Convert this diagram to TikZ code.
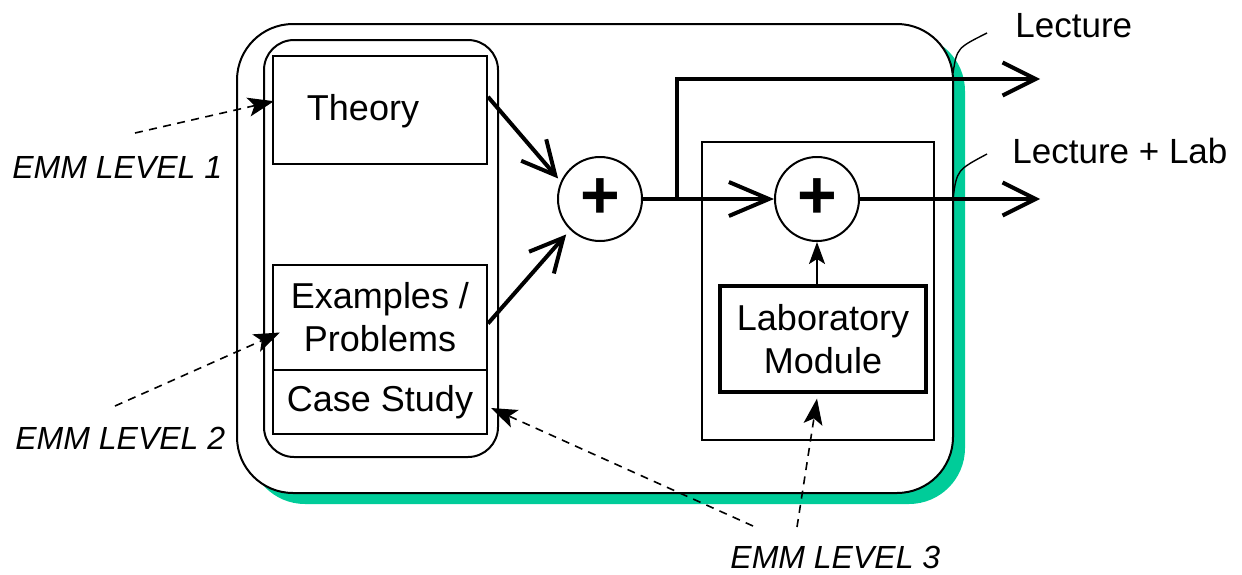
\documentclass[tikz,border=0pt]{standalone}
\usepackage{fontspec}
\setmainfont{Liberation Sans}
\usetikzlibrary{arrows.meta,calc}
\definecolor{shadowgreen}{RGB}{0,204,153}

\begin{document}
\begin{tikzpicture}[x=0.5pt,y=-0.5pt,
  box/.style={draw,line width=1pt,inner sep=0pt},
  boxtext/.style={font=\fontsize{18}{21.6}\selectfont,align=center},
  sumnode/.style={circle,draw,line width=1pt,fill=white,minimum size=42pt,inner sep=0pt,
                  font=\fontsize{34}{34}\selectfont\bfseries},
  flow/.style={line width=2pt,-{Straight Barb[length=16.5pt,width=16.5pt]}},
  flowlong/.style={line width=2pt,-{Straight Barb[length=20pt,width=17pt]}},
  emm/.style={font=\fontsize{16}{19}\selectfont\itshape,anchor=base west,inner sep=0pt},
  pointer/.style={dash pattern=on 4pt off 3.2pt,line width=0.8pt,
                  -{Stealth[length=13pt,width=9.5pt,inset=3pt]}},
  outlabel/.style={font=\fontsize{17.5}{21}\selectfont,anchor=base west,inner sep=0pt},
  leader/.style={line width=0.7pt}
]
\useasboundingbox (0,0) rectangle (1242,574);

% outer frame with its drop shadow
\fill[shadowgreen,rounded corners=28pt] (249,35) rectangle (965,504);
\draw[line width=1pt,fill=white,rounded corners=28pt] (237,24) rectangle (953,493);
% lecture material frame
\draw[line width=1pt,rounded corners=15pt] (264,40) rectangle (498,457);

% lecture material
\node[box,minimum width=107pt,minimum height=54pt] (theory) at (380,110) {};
\node[boxtext,anchor=base] (theorytext) at (363,120) {Theory};
\node[box,boxtext,minimum width=107pt,minimum height=52.5pt] (examples) at (380,317.5) {Examples /\\Problems};
\node[box,boxtext,minimum width=107pt,minimum height=32pt] (case) at (380,402) {Case Study};

% laboratory part
\node[box,minimum width=116pt,minimum height=149pt] (labframe) at (818,291) {};
\node[box,boxtext,line width=1.6pt,minimum width=103pt,minimum height=53pt] (lab) at (823,339) {Laboratory\\Module};

% summing junctions
\node[sumnode] (sum1) at (600,199) {\raisebox{-2pt}{+}};
\node[sumnode] (sum2) at (817,199) {\raisebox{-2pt}{+}};

% signal flow
\coordinate (split) at (677,199);
\coordinate (lectureEnd) at (1040,79);
\coordinate (labEnd) at (1040,199);
\draw[flow,shorten >=2pt] ($(theory.north east)!0.38!(theory.south east)$) -- (sum1.156);
\draw[flow,shorten >=3pt] ($(examples.east)+(0,6)$) -- (sum1.226);
\draw[flowlong] (sum1) -- (sum2);
\draw[flow] (split) |- (lectureEnd);
\draw[flow] (sum2) -- (labEnd);
\draw[line width=1pt,-{Stealth[length=11pt,width=8pt,inset=2.5pt]}] (lab.north -| sum2) -- (sum2.south);

% output labels
\node[outlabel] (lecture) at (1015,37) {Lecture};
\node[outlabel] (lecturelab) at (1012,163) {Lecture + Lab};
\coordinate (lecTap) at (953,73);
\coordinate (lecTip) at (987,33);
\coordinate (labTap) at (953,198);
\coordinate (labTip) at (987,154);
\draw[leader] (lecTap) .. controls (957,48) .. (lecTip);
\draw[leader] (labTap) .. controls (957,170) .. (labTip);

% EMM levels
\node[emm] (emm1) at (12,178) {EMM LEVEL 1};
\node[emm] (emm2) at (15,449) {EMM LEVEL 2};
\node[emm] (emm3) at (730,568) {EMM LEVEL 3};
\coordinate (t1) at (135,133);
\coordinate (t2) at (115,406);
\coordinate (t3a) at (753,526);
\coordinate (t3b) at (797,527);
\draw[pointer] (t1) -- ($(theory.north west)!0.42!(theory.south west)+(2,0)$);
\draw[pointer] (t2) -- ($(examples.west)+(8,15)$);
\draw[pointer] (t3a) -- ($(case.east)+(3,6)$);
\draw[pointer] (t3b) -- ($(lab.south)+(-6,5)$);
\end{tikzpicture}
\end{document}
